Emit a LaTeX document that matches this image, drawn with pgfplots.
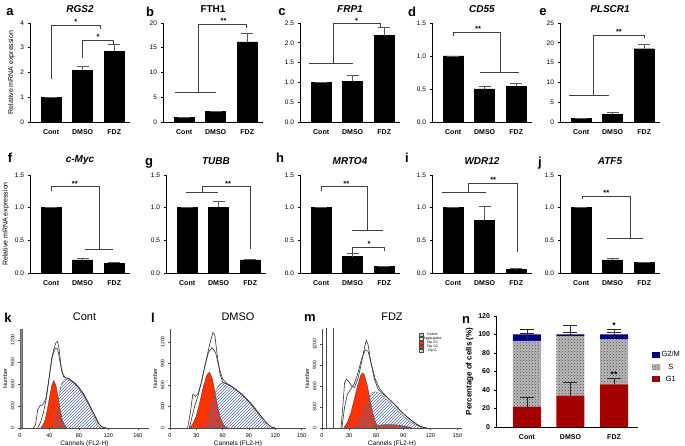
\documentclass[border=0pt]{standalone}
\usepackage{pgfplots}
\pgfplotsset{compat=1.18}
\usepackage{fontspec}
\setmainfont{Liberation Sans}
\usetikzlibrary{patterns}

\definecolor{gred}{HTML}{A50000}
\definecolor{gnavy}{HTML}{00007F}
\definecolor{hred}{HTML}{FF3300}
\definecolor{hblue}{HTML}{6A88E0}
\definecolor{hline}{HTML}{333333}

\tikzset{
  br/.style={line width=0.6pt, black!75},
  st/.style={font=\bfseries\fontsize{7.5}{7.5}\selectfont, anchor=south, inner sep=0.5pt},
  lab/.style={font=\bfseries\fontsize{13}{13}\selectfont, anchor=center},
}

\pgfplotsset{
  bp/.style={
    scale only axis, width=100pt, height=99pt,
    xmin=-0.67, xmax=2.5, ymin=0,
    axis x line*=bottom, axis y line*=left,
    axis line style={line width=0.8pt, -},
    xtick={0,1,2}, xticklabels={Cont,DMSO,FDZ},
    x tick label style={font=\bfseries\fontsize{7}{8}\selectfont, yshift=-2pt},
    y tick label style={font=\fontsize{6.5}{7}\selectfont},
    major x tick style={draw=none},
    tick align=outside, major tick length=2.5pt,
    ytick style={line width=0.6pt, black},
    ybar, bar width=20pt,
    title style={font=\bfseries\fontsize{10}{11}\selectfont, yshift=1pt},
    /pgf/number format/assume math mode=true,
    clip=false,
    ylabel style={font=\fontsize{7}{8}\selectfont, yshift=-1pt},
  },
  dec/.style={yticklabel style={/pgf/number format/.cd, fixed, fixed zerofill, precision=1}},
  ebar/.style={error bars/.cd, y dir=plus, y explicit,
    error bar style={line width=0.6pt, black!65},
    error mark options={rotate=90, line width=0.6pt, black!65, mark size=6pt}},
  nbar/.style={error bars/.cd, y dir=plus, y explicit,
    error bar style={line width=0.6pt, black!85},
    error mark options={rotate=90, line width=0.6pt, black!85, mark size=7pt}},
  bars/.style={fill=black, draw=black, ebar},
  hist/.style={
    scale only axis, height=99pt, ymin=0,
    axis x line*=bottom, axis y line*=left,
    axis line style={line width=0.5pt, black!70, -},
    tick align=outside, major tick length=2pt,
    tick style={black!70, line width=0.4pt},
    ytick={0,300,600,900,1200},
    x tick label style={font=\fontsize{5.5}{6}\selectfont},
    y tick label style={font=\fontsize{5}{6}\selectfont, rotate=90, anchor=south},
    /pgf/number format/1000 sep={},
    xlabel={Cannels (FL2-H)}, ylabel={Number},
    xlabel style={font=\fontsize{6.5}{7}\selectfont, yshift=4pt},
    ylabel style={font=\fontsize{5.5}{6}\selectfont, yshift=-3pt},
    title style={font=\fontsize{11}{12}\selectfont, yshift=-1pt},
    /pgf/number format/assume math mode=true,
  },
  env/.style={hline, line width=0.6pt, mark=none, forget plot},
  gone/.style={fill=hred, draw=black!80, line width=0.3pt, mark=none, forget plot},
  sph/.style={draw=black!60, line width=0.3pt, mark=none, forget plot, fill=white},
  sov/.style={draw=none, mark=none, forget plot, pattern=north east lines, pattern color=hblue!75!black},
}

\begin{document}
\begin{tikzpicture}
\path[use as bounding box] (0,0) rectangle (685pt,446pt);

% ---------- row 1 ----------
\begin{axis}[bp, at={(30pt,324pt)}, ymax=4, ytick={0,1,2,3,4},
  title={\textit{RGS2}}, ylabel={Relative mRNA expression}]
\addplot[bars] coordinates {(0,1) +- (0,0) (1,2.1) +- (0,0.15) (2,2.85) +- (0,0.3)};
\draw[br] (0,1.73) -- (0,3.91) -- (1.55,3.91) -- (1.55,3.75);
\node[st] at (0.78,3.91) {*};
\draw[br] (1,2.6) -- (1,3.3) -- (1.97,3.3) -- (1.97,3.1);
\node[st] at (1.49,3.3) {*};
\end{axis}

\begin{axis}[bp, at={(163pt,324pt)}, ymax=20, ytick={0,5,10,15,20},
  title={FTH1}]
\addplot[bars] coordinates {(0,1) +- (0,0) (1,2.1) +- (0,0.15) (2,16.2) +- (0,1.8)};
\draw[br] (-0.29,5.9) -- (1.01,5.9);
\draw[br] (0.44,5.9) -- (0.44,19.8) -- (1.96,19.8) -- (1.96,19.0);
\node[st] at (1.25,19.8) {**};
\end{axis}

\begin{axis}[bp, dec, at={(300pt,324pt)}, ymax=2.5, ytick={0,0.5,1,1.5,2,2.5},
  title={\textit{FRP1}}]
\addplot[bars] coordinates {(0,1) +- (0,0) (1,1.03) +- (0,0.15) (2,2.18) +- (0,0.2)};
\draw[br] (-0.4,1.48) -- (1.0,1.48);
\draw[br] (0.38,1.48) -- (0.38,2.48) -- (1.87,2.48) -- (1.87,2.39);
\node[st] at (1.12,2.48) {*};
\end{axis}

\begin{axis}[bp, dec, at={(432pt,324pt)}, ymax=1.5, ytick={0,0.5,1,1.5},
  title={\textit{CD55}}]
\addplot[bars] coordinates {(0,1) +- (0,0) (1,0.5) +- (0,0.04) (2,0.54) +- (0,0.04)};
\draw[br] (0,1.3) -- (0,1.36) -- (1.49,1.36) -- (1.49,0.75);
\draw[br] (0.85,0.75) -- (2.1,0.75);
\node[st] at (0.79,1.36) {**};
\end{axis}

\begin{axis}[bp, at={(560pt,324pt)}, ymax=25, ytick={0,5,10,15,20,25},
  title={\textit{PLSCR1}}]
\addplot[bars] coordinates {(0,1) +- (0,0) (1,1.9) +- (0,0.5) (2,18.5) +- (0,1.2)};
\draw[br] (-0.38,6.8) -- (0.87,6.8);
\draw[br] (0.38,6.8) -- (0.38,22) -- (2.0,22) -- (2.0,21.2);
\node[st] at (1.2,22) {**};
\end{axis}

% ---------- row 2 ----------
\begin{axis}[bp, dec, at={(30pt,173pt)}, height=98pt, ymax=1.5, ytick={0,0.5,1,1.5},
  title={\textit{c-Myc}}, ylabel={Relative mRNA expression}]
\addplot[bars] coordinates {(0,1) +- (0,0) (1,0.2) +- (0,0.03) (2,0.15) +- (0,0.02)};
\draw[br] (0,1.25) -- (0,1.32) -- (1.52,1.32) -- (1.52,0.37);
\draw[br] (1.08,0.37) -- (1.97,0.37);
\node[st] at (0.75,1.32) {**};
\end{axis}

\begin{axis}[bp, dec, at={(166pt,173pt)}, height=98pt, ymax=1.5, ytick={0,0.5,1,1.5},
  title={\textit{TUBB}}]
\addplot[bars] coordinates {(0,1) +- (0,0) (1,1.01) +- (0,0.08) (2,0.2) +- (0,0.01)};
\draw[br] (-0.04,1.24) -- (0.98,1.24);
\draw[br] (0.47,1.24) -- (0.47,1.32) -- (2.0,1.32) -- (2.0,0.36);
\node[st] at (1.3,1.32) {**};
\end{axis}

\begin{axis}[bp, dec, at={(300pt,173pt)}, height=98pt, ymax=1.5, ytick={0,0.5,1,1.5},
  title={\textit{MRTO4}}]
\addplot[bars] coordinates {(0,1) +- (0,0) (1,0.25) +- (0,0.05) (2,0.1) +- (0,0.01)};
\draw[br] (0,1.25) -- (0,1.32) -- (1.46,1.32) -- (1.46,0.65);
\draw[br] (0.98,0.65) -- (1.97,0.65);
\node[st] at (0.8,1.32) {**};
\draw[br] (1,0.31) -- (1,0.39) -- (2.0,0.39) -- (2.0,0.33);
\node[st] at (1.52,0.39) {*};
\end{axis}

\begin{axis}[bp, dec, at={(432pt,173pt)}, height=98pt, ymax=1.5, ytick={0,0.5,1,1.5},
  title={\textit{WDR12}}]
\addplot[bars] coordinates {(0,1) +- (0,0) (1,0.81) +- (0,0.21) (2,0.06) +- (0,0.005)};
\draw[br] (-0.35,1.23) -- (1.04,1.23);
\draw[br] (0.47,1.23) -- (0.47,1.37) -- (2.03,1.37) -- (2.03,0.32);
\node[st] at (1.27,1.37) {**};
\end{axis}

\begin{axis}[bp, dec, at={(560pt,173pt)}, height=98pt, ymax=1.5, ytick={0,0.5,1,1.5},
  title={\textit{ATF5}}]
\addplot[bars] coordinates {(0,1) +- (0,0) (1,0.2) +- (0,0.03) (2,0.16) +- (0,0.01)};
\draw[br] (0.03,1.13) -- (0.03,1.18) -- (1.55,1.18) -- (1.55,0.53);
\draw[br] (0.82,0.53) -- (1.96,0.53);
\node[st] at (0.8,1.18) {**};
\end{axis}

% ---------- row 3: histograms ----------
\begin{axis}[hist, at={(20pt,18pt)}, width=129pt, xmin=0, xmax=175, ymax=1350,
  xtick={0,40,80,120,160}, title={Cont}]
\addplot[fill=black!45, draw=black!60, forget plot] coordinates {(0,0) (0,1350) (3,1350) (3,0)} -- cycle;
\addplot[sph] coordinates {(44,0) (48,150) (52,400) (56,600) (60,660) (64,670) (68,650) (73,610) (78,560) (83,490) (88,410) (93,310) (98,200) (103,90) (107,20) (110,0)};
\addplot[gone] coordinates {(28,0) (31,40) (34,110) (37,250) (40,420) (43,580) (46,650) (49,570) (52,400) (55,220) (58,90) (61,25) (64,0)};
\addplot[sov] coordinates {(44,0) (48,150) (52,400) (56,600) (60,660) (64,670) (68,650) (73,610) (78,560) (83,490) (88,410) (93,310) (98,200) (103,90) (107,20) (110,0)};
\addplot[env] coordinates {(18,0) (21,40) (24,250) (27,300) (31,320) (35,400) (39,650) (43,950) (46,1080) (49,1170) (51,1180) (53,1080) (56,820) (59,700) (63,680) (67,670) (71,640) (76,600) (81,540) (86,470) (91,380) (96,280) (101,170) (106,70) (110,20) (115,0)};
\addplot[env] coordinates {(24,0) (28,80) (32,220) (36,420) (40,720) (44,980) (48,1090) (51,1080) (54,920) (57,760) (61,690) (66,670) (72,630) (78,570) (84,490) (90,390) (96,280) (102,160) (107,60) (112,10) (118,0)};
\end{axis}

\begin{axis}[hist, at={(170pt,18pt)}, width=136pt, xmin=0, xmax=155, ymax=1380,
  xtick={0,30,60,90,120,150}, title={DMSO}]
\addplot[sph] coordinates {(38,0) (42,120) (46,300) (50,460) (54,570) (58,620) (62,625) (67,600) (73,550) (80,480) (87,400) (94,300) (100,200) (106,100) (111,25) (114,0)};
\addplot[gone] coordinates {(22,0) (26,60) (30,170) (34,360) (38,580) (42,740) (45,780) (48,700) (51,520) (54,320) (57,160) (60,60) (63,15) (66,0)};
\addplot[sov] coordinates {(38,0) (42,120) (46,300) (50,460) (54,570) (58,620) (62,625) (67,600) (73,550) (80,480) (87,400) (94,300) (100,200) (106,100) (111,25) (114,0)};
\addplot[env] coordinates {(20,0) (23,200) (26,470) (29,440) (32,480) (36,650) (40,880) (44,1100) (47,1250) (49,1330) (51,1300) (54,1000) (57,750) (60,640) (64,620) (68,600) (74,550) (80,490) (86,420) (92,340) (98,250) (104,160) (110,70) (115,15) (120,0)};
\addplot[env] coordinates {(22,0) (25,150) (28,300) (32,450) (36,650) (40,880) (44,1060) (48,1120) (52,1050) (56,840) (60,680) (65,620) (72,560) (80,490) (88,400) (96,290) (104,160) (110,70) (116,10) (120,0)};
\end{axis}

\begin{axis}[hist, at={(322pt,18pt)}, width=140pt, xmin=0, xmax=155, ymax=1420,
  xtick={0,30,60,90,120,150}, title={FDZ},
  legend style={at={(0.69,0.97)}, anchor=north west, draw=none, fill=none,
    font=\fontsize{3.5}{4}\selectfont, inner sep=0pt, row sep=-1.2pt,
    nodes={inner sep=0.6pt}},
  legend image code/.code={\draw[#1, line width=0.2pt] (0pt,-1.4pt) rectangle (4pt,1.4pt);}]
\addplot[fill=white, draw=black!70, line width=0.5pt, forget plot] coordinates {(5,0) (5,1500) (13,1500) (13,0)};
\addplot[sph] coordinates {(36,0) (40,100) (44,220) (48,350) (52,450) (56,510) (59,520) (63,500) (68,450) (74,380) (80,300) (86,220) (92,150) (98,90) (104,40) (110,10) (113,0)};
\addplot[gone] coordinates {(24,0) (28,80) (32,220) (36,430) (40,640) (43,760) (45,790) (47,760) (50,620) (53,420) (56,230) (59,90) (62,20) (64,0)};
\addplot[gone] coordinates {(55,0) (60,30) (66,45) (74,50) (82,45) (90,30) (96,15) (100,0)};
\addplot[sov] coordinates {(36,0) (40,100) (44,220) (48,350) (52,450) (56,510) (59,520) (63,500) (68,450) (74,380) (80,300) (86,220) (92,150) (98,90) (104,40) (110,10) (113,0)};
\addplot[env] coordinates {(21,0) (23,300) (25,650) (27,700) (30,660) (33,600) (36,580) (40,720) (44,950) (47,1150) (49,1260) (51,1200) (54,950) (58,700) (62,560) (66,500) (72,440) (78,370) (84,290) (90,210) (96,140) (102,80) (108,30) (113,5) (116,0)};
\addplot[env] coordinates {(22,0) (25,300) (28,480) (32,560) (36,640) (40,800) (44,1000) (48,1120) (51,1100) (55,900) (59,700) (64,560) (70,470) (76,390) (82,310) (88,230) (94,160) (100,95) (106,40) (112,10) (116,0)};
\addlegendimage{fill=blue!25, draw=black!70}\addlegendentry{Debris}
\addlegendimage{fill=green!25, draw=black!70}\addlegendentry{Aggregates}
\addlegendimage{fill=hred, draw=black!70}\addlegendentry{Dip G1}
\addlegendimage{fill=hred, draw=black!70}\addlegendentry{Dip G2}
\addlegendimage{pattern=north east lines, pattern color=hblue, draw=black!70}\addlegendentry{Dip S}
\end{axis}

% ---------- n: stacked ----------
\begin{axis}[scale only axis, width=142pt, height=111pt, at={(496pt,19pt)},
  ybar stacked, bar width=28pt, xmin=-0.71, xmax=2.55, ymin=0, ymax=120,
  ytick={0,20,...,120}, xtick={0,1,2}, xticklabels={Cont,DMSO,FDZ},
  axis x line*=bottom, axis y line*=left, axis line style={line width=0.8pt,-},
  tick align=outside, major tick length=2.5pt, major x tick style={draw=none},
  ytick style={line width=0.6pt, black},
  x tick label style={font=\bfseries\fontsize{7}{8}\selectfont, yshift=-2pt},
  y tick label style={font=\bfseries\fontsize{7}{8}\selectfont},
  /pgf/number format/assume math mode=true,
  ylabel={Percentage of cells (\%)}, ylabel style={font=\bfseries\fontsize{8}{9}\selectfont, yshift=-2pt},
  legend style={at={(1.1,0.54)}, anchor=west, draw=none, fill=none, inner sep=0pt,
    font=\fontsize{7.5}{8}\selectfont, row sep=3pt, nodes={inner sep=1.2pt}},
  legend image code/.code={\fill[#1] (0pt,-3pt) rectangle (8pt,3pt);},
  reverse legend]
\addplot[fill=gred, draw=none] coordinates {(0,22) (1,34) (2,46)};
\addplot[fill=gray!55, draw=none, postaction={pattern=crosshatch dots, pattern color=black!70}] coordinates {(0,71) (1,64) (2,49)};
\addplot[fill=gnavy, draw=none] coordinates {(0,7) (1,2) (2,5)};
\legend{G1,S,G2/M}
\end{axis}
\begin{axis}[scale only axis, width=142pt, height=111pt, at={(496pt,19pt)},
  xmin=-0.71, xmax=2.55, ymin=0, ymax=120, hide axis, clip=false]
\addplot[draw=none, mark=none, nbar]
  coordinates {(0,22) +- (0,10) (1,34) +- (0,14) (2,46) +- (0,7)};
\addplot[draw=none, mark=none, nbar]
  coordinates {(0,93) +- (0,8) (1,98) +- (0,4) (2,95) +- (0,7)};
\addplot[draw=none, mark=none, nbar]
  coordinates {(0,100) +- (0,6) (1,100) +- (0,10) (2,100) +- (0,6)};
\node[st, font=\bfseries\fontsize{8.5}{8.5}\selectfont] at (2,53) {**};
\node[st, font=\bfseries\fontsize{8.5}{8.5}\selectfont] at (2,106) {*};
\end{axis}

% ---------- panel letters ----------
\node[lab] at (10pt,434pt) {a};
\node[lab] at (150pt,434pt) {b};
\node[lab] at (282pt,434pt) {c};
\node[lab] at (412pt,434pt) {d};
\node[lab] at (543pt,434pt) {e};
\node[lab] at (10pt,288pt) {f};
\node[lab] at (149pt,283pt) {g};
\node[lab] at (280pt,288pt) {h};
\node[lab] at (407pt,288pt) {i};
\node[lab] at (540pt,283pt) {j};
\node[lab] at (8pt,128pt) {k};
\node[lab] at (153pt,128pt) {l};
\node[lab] at (310pt,128pt) {m};
\node[lab] at (466pt,126pt) {n};
\end{tikzpicture}
\end{document}
